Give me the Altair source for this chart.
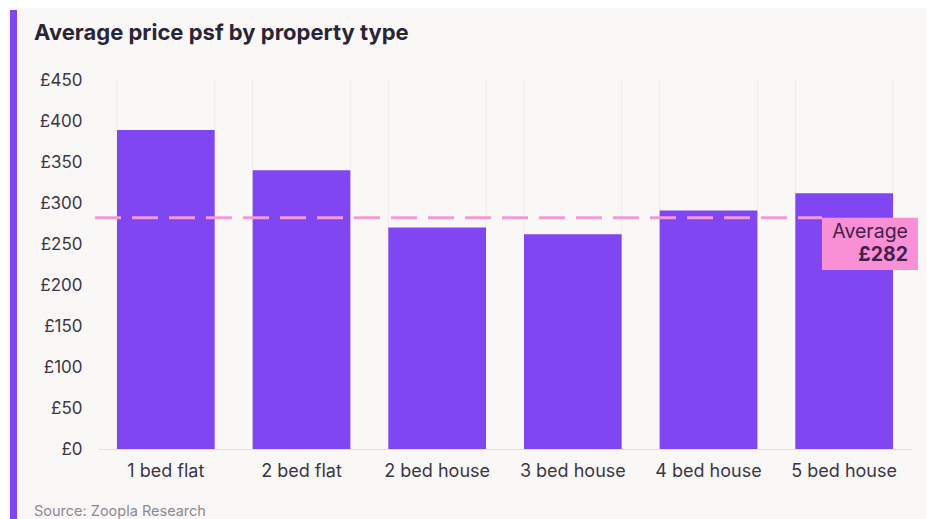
import altair as alt
import pandas as pd

categories = ["1 bed flat", "2 bed flat", "2 bed house", "3 bed house", "4 bed house", "5 bed house"]
values = [389, 340, 270, 262, 291, 312]
average = 282
y_ticks = [0, 50, 100, 150, 200, 250, 300, 350, 400, 450]

FONT = "Inter"
W, H = 814, 369

df = pd.DataFrame({"type": categories, "price": values})

xaxis = alt.Axis(labelAngle=0, labelFontSize=18, labelColor="#3b3645",
                 labelFont=FONT, labelPadding=13, ticks=False, bandPosition=0.5,
                 labelAlign="center",
                 domain=True, domainColor="#e3dfde", grid=False)
xscale = alt.Scale(paddingInner=0.28, paddingOuter=0.14)
yscale = alt.Scale(domain=[0, 450])

bars = alt.Chart(df).mark_bar(color="#8046f1").encode(
    x=alt.X("type:N", sort=categories, title=None, scale=xscale, axis=xaxis),
    y=alt.Y("price:Q", scale=yscale, title=None,
            axis=alt.Axis(values=y_ticks, labelExpr="'£' + datum.value",
                          labelFontSize=17, labelColor="#3b3645", labelFont=FONT,
                          labelPadding=16, ticks=False, domain=False, grid=False)),
)

grid0 = alt.Chart(df).mark_rule(color="#eeebe9", strokeWidth=1).encode(
    x=alt.X("type:N", sort=categories, title=None, scale=xscale, axis=xaxis, bandPosition=0),
    y=alt.value(0), y2=alt.value(H),
)
grid1 = alt.Chart(df).mark_rule(color="#eeebe9", strokeWidth=1).encode(
    x=alt.X("type:N", sort=categories, title=None, scale=xscale, axis=xaxis, bandPosition=1),
    y=alt.value(0), y2=alt.value(H),
)

avg_df = pd.DataFrame({"avg": [average], "l1": ["Average"], "l2": ["£" + str(average)]})

avg_line = alt.Chart(avg_df).mark_rule(color="#f39ad6", strokeWidth=3, strokeDash=[26, 11]).encode(
    y=alt.Y("avg:Q", scale=yscale), x=alt.value(-3), x2=alt.value(W - 90),
)
box = alt.Chart(avg_df).mark_rect(color="#f990d5").encode(
    y=alt.Y("avg:Q", scale=yscale), y2=alt.value(190),
    x=alt.value(724), x2=alt.value(820),
)
t1 = alt.Chart(avg_df).mark_text(align="right", baseline="middle", fontSize=19.5,
                                 font=FONT, color="#45204c").encode(
    text="l1:N", x=alt.value(810), y=alt.value(152),
)
t2 = alt.Chart(avg_df).mark_text(align="right", baseline="middle", fontSize=19.5,
                                 font=FONT, fontWeight="bold", color="#45204c").encode(
    text="l2:N", x=alt.value(810), y=alt.value(175),
)

one = pd.DataFrame({"t": ["Average price psf by property type"], "s": ["Source: Zoopla Research"]})
side = alt.Chart(one).mark_rect(color="#8046f1").encode(
    x=alt.value(-88), x2=alt.value(-81), y=alt.value(-70), y2=alt.value(H + 72),
)
title = alt.Chart(one).mark_text(align="left", baseline="middle", fontSize=22,
                                 font=FONT, fontWeight="bold", color="#2a2536").encode(
    text="t:N", x=alt.value(-64), y=alt.value(-47),
)
source = alt.Chart(one).mark_text(align="left", baseline="middle", fontSize=14.5,
                                  font=FONT, color="#8d8893").encode(
    text="s:N", x=alt.value(-64), y=alt.value(H + 63),
)

chart = alt.layer(grid0, grid1, bars, avg_line, box, t1, t2, side, title, source).properties(
    width=W, height=H,
    autosize=alt.AutoSizeParams(type="none"),
    padding={"left": 90, "top": 72, "right": 14, "bottom": 70},
    background="#faf8f7",
).configure_view(stroke=None)

chart.save("out.html", embed_options={"renderer": "svg", "actions": False})
